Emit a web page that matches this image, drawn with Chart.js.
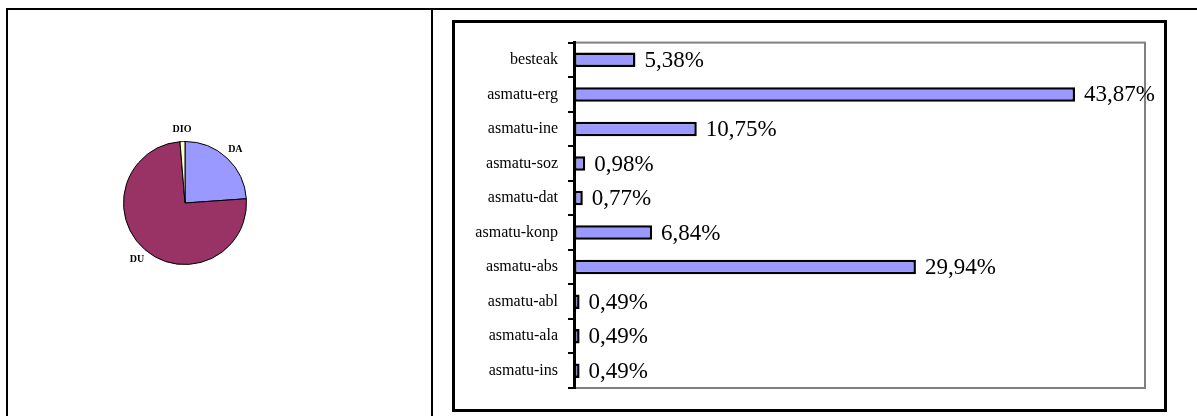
<!DOCTYPE html>
<html>
<head>
<meta charset="utf-8">
<script src="https://cdn.jsdelivr.net/npm/chart.js@4"></script>
<style>
  body { margin: 0; width: 1197px; height: 416px; overflow: hidden; background: #fff; position: relative; }
  #table { position: absolute; left: 6px; top: 8px; width: 1300px; height: 500px; border-top: 2px solid #000; border-left: 2px solid #000; }
  #divider { position: absolute; left: 431px; top: 8px; width: 2px; height: 500px; background: #000; }
  #box { position: absolute; left: 452px; top: 20px; width: 709px; height: 386px; border: 3px solid #000; }
  #pieWrap { position: absolute; left: 85px; top: 103px; width: 200px; height: 200px; }
  #barWrap { position: absolute; left: 0; top: 0; width: 709px; height: 386px; }
</style>
</head>
<body>
<div id="table"></div>
<div id="divider"></div>
<div id="pieWrap"><canvas id="pieChart"></canvas></div>
<div id="box"><div id="barWrap"><canvas id="barChart"></canvas></div></div>
<script>
const pieLabels = ['DA', 'DU', 'DIO']
const pieValues = [23.9, 74.8, 1.3]
const pieColors = ['#9999FF', '#993366', '#FFFFCC']

const barLabels = ['besteak', 'asmatu-erg', 'asmatu-ine', 'asmatu-soz', 'asmatu-dat',
    'asmatu-konp', 'asmatu-abs', 'asmatu-abl', 'asmatu-ala', 'asmatu-ins']
const barValues = [5.38, 43.87, 10.75, 0.98, 0.77, 6.84, 29.94, 0.49, 0.49, 0.49]

// labels outside the pie slices
const pieLabelPlugin = {
    id: 'pieLabels',
    afterDatasetsDraw(chart) {
        const ctx = chart.ctx
        ctx.save()
        ctx.font = 'bold 10px "Liberation Serif"'
        ctx.fillStyle = '#000'
        ctx.textAlign = 'center'
        ctx.textBaseline = 'middle'
        chart.getDatasetMeta(0).data.forEach((arc, i) => {
            const mid = (arc.startAngle + arc.endAngle) / 2
            const r = arc.outerRadius * 1.2
            ctx.fillText(chart.data.labels[i], arc.x + Math.cos(mid) * r, arc.y + Math.sin(mid) * r)
        })
        ctx.restore()
    }
}

// grey plot frame
const framePlugin = {
    id: 'frame',
    beforeDraw(chart) {
        const a = chart.chartArea
        const ctx = chart.ctx
        ctx.save()
        ctx.strokeStyle = '#808080'
        ctx.lineWidth = 2
        ctx.strokeRect(a.left, a.top, a.right - a.left, a.bottom - a.top)
        ctx.restore()
    }
}

// percentage labels at the end of bars
const valueLabelPlugin = {
    id: 'valueLabels',
    afterDatasetsDraw(chart) {
        const ctx = chart.ctx
        ctx.save()
        ctx.font = '23px "Liberation Serif"'
        ctx.fillStyle = '#000'
        ctx.textAlign = 'left'
        ctx.textBaseline = 'middle'
        chart.getDatasetMeta(0).data.forEach((bar, i) => {
            const txt = barValues[i].toFixed(2).replace('.', ',') + '%'
            ctx.fillText(txt, bar.x + 9, bar.y + 1)
        })
        ctx.restore()
    }
}

new Chart(document.getElementById('pieChart'), {
    type: 'pie',
    data: {
        labels: pieLabels,
        datasets: [{
            data: pieValues,
            backgroundColor: pieColors,
            borderColor: '#000',
            borderWidth: 1
        }]
    },
    options: {
        responsive: true,
        maintainAspectRatio: false,
        animation: false,
        layout: { padding: 38 },
        plugins: { legend: { display: false }, tooltip: { enabled: false } }
    },
    plugins: [pieLabelPlugin]
})

new Chart(document.getElementById('barChart'), {
    type: 'bar',
    data: {
        labels: barLabels,
        datasets: [{
            data: barValues,
            backgroundColor: '#9999FF',
            borderColor: '#000',
            borderWidth: 2.5,
            borderSkipped: false,
            categoryPercentage: 1,
            barPercentage: 0.42
        }]
    },
    options: {
        indexAxis: 'y',
        responsive: true,
        maintainAspectRatio: false,
        animation: false,
        layout: { padding: { top: 18, right: 19, bottom: 21, left: 0 } },
        scales: {
            x: { display: false, min: 0, max: 50 },
            y: {
                afterFit(scale) { scale.width = 119 },
                border: { display: true, color: '#000', width: 3 },
                grid: { display: true, drawOnChartArea: false, drawTicks: true, tickLength: 6, color: '#000', lineWidth: 2 },
                ticks: { color: '#000', padding: 10, font: { family: 'Liberation Serif', size: 16 } }
            }
        },
        plugins: { legend: { display: false }, tooltip: { enabled: false } }
    },
    plugins: [framePlugin, valueLabelPlugin]
})
</script>
</body>
</html>
